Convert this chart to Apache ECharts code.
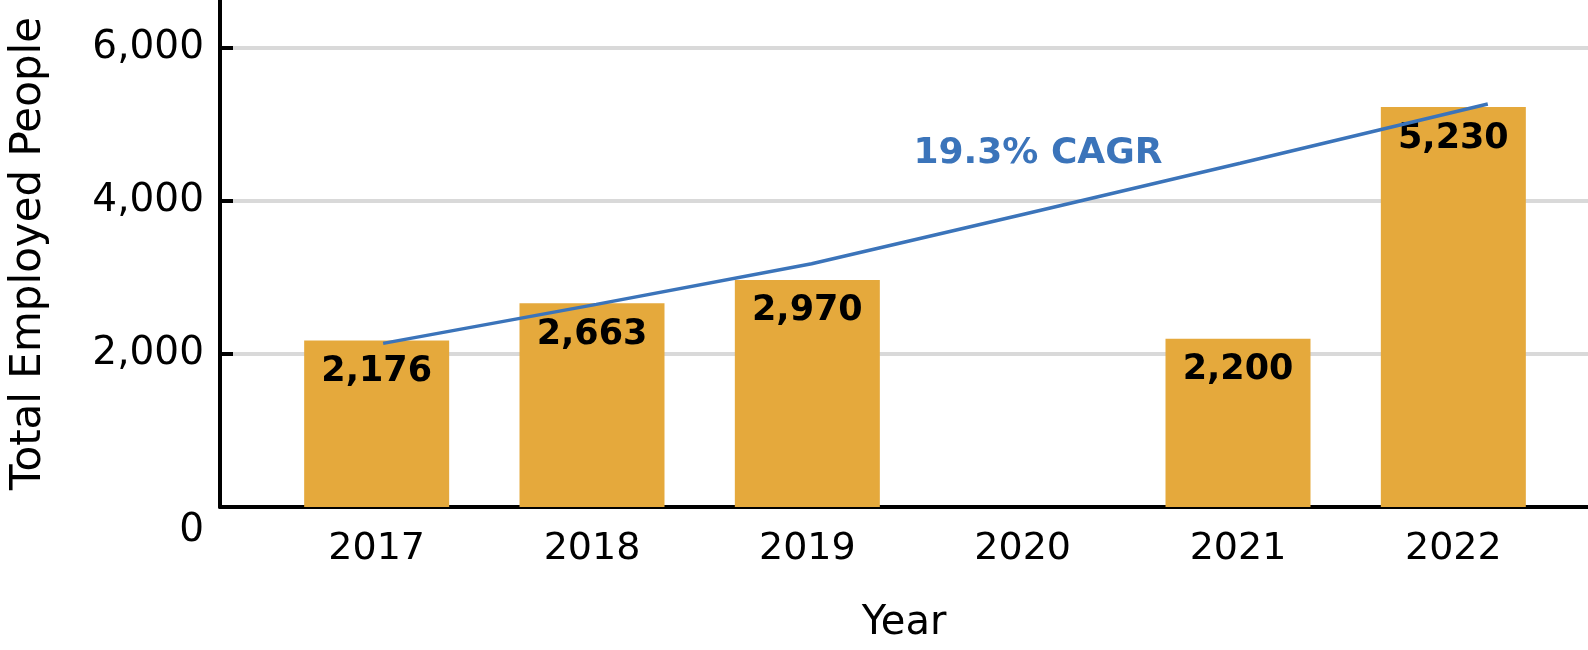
<!DOCTYPE html>
<html>
<head>
<meta charset="utf-8">
<script src="https://cdn.jsdelivr.net/npm/echarts@6/dist/echarts.min.js"></script>
<style>
html,body{margin:0;padding:0;background:#fff;}
#chart{width:1588px;height:650px;}
</style>
</head>
<body>
<div id="chart"></div>
<script>
const categories = ['2017', '2018', '2019', '2020', '2021', '2022'];
const employed = [2176, 2663, 2970, null, 2200, 5230];
const trendYears = [2017.03, 2018.02, 2019.02, 2020.01, 2021.01, 2022.16];
const cagrTrend = [2140, 2650, 3180, 3832, 4495, 5269];
const yTicks = [0, 2000, 4000, 6000];
const cagrLabel = '19.3% CAGR';
const yName = 'Total Employed People';
const xName = 'Year';

const FONT = 'DejaVu Sans';
const fmt = v => v == null ? '' : v.toLocaleString('en-US');
const yMax = 6630;
const gridColors = ['rgba(0,0,0,0)', '#d9d9d9', '#d9d9d9', '#d9d9d9', 'rgba(0,0,0,0)'];

const chart = echarts.init(document.getElementById('chart'));
chart.setOption({
  animation: false,
  textStyle: { fontFamily: FONT },
  grid: [
    { left: 269, right: 27, top: 0, bottom: 143 },
    { left: 211, right: 0, top: 0, bottom: 143 },
    { left: 230, right: 0, top: 0, bottom: 143 }
  ],
  xAxis: [
    {
      type: 'category', gridIndex: 0, data: categories,
      axisLine: { show: false }, axisTick: { show: false },
      axisLabel: { color: '#000', fontSize: 38, fontFamily: FONT, margin: 23 }
    },
    {
      type: 'value', gridIndex: 1, min: 0, max: 1,
      axisLine: { show: true, lineStyle: { color: '#000', width: 4 } },
      axisTick: { show: false }, axisLabel: { show: false }, splitLine: { show: false },
      name: xName, nameLocation: 'middle', nameGap: 97,
      nameTextStyle: { color: '#000', fontSize: 40, fontFamily: FONT }
    },
    {
      type: 'value', gridIndex: 0, min: 2016.5, max: 2022.5, show: false,
      splitLine: { show: false }
    },
    {
      type: 'value', gridIndex: 2, min: 0, max: 1, show: false, splitLine: { show: false }
    }
  ],
  yAxis: [
    { type: 'value', gridIndex: 0, min: 0, max: yMax, show: false, splitLine: { show: false } },
    {
      type: 'value', gridIndex: 1, min: 0, max: yMax, interval: 2000,
      axisLine: { show: true, lineStyle: { color: '#000', width: 4 } },
      axisTick: { show: true, inside: true, length: 13, lineStyle: { color: '#000', width: 4 } },
      splitLine: { show: false },
      axisLabel: {
        color: '#000', fontSize: 39, fontFamily: FONT, margin: 16, showMaxLabel: false,
        formatter: v => (yTicks.indexOf(v) < 0 ? '' : (v === 0 ? '{z|0}' : fmt(v))),
        rich: { z: { fontSize: 39, fontFamily: FONT, color: '#000', padding: [48, 0, 0, 0] } }
      },
      name: yName, nameLocation: 'middle', nameGap: 170, nameRotate: 90,
      nameTextStyle: { color: '#000', fontSize: 42, fontFamily: FONT }
    },
    {
      type: 'value', gridIndex: 2, min: 0, max: yMax, interval: 2000,
      axisLine: { show: false }, axisTick: { show: false }, axisLabel: { show: false },
      splitLine: { show: true, lineStyle: { color: gridColors, width: 4 } }
    }
  ],
  series: [
    {
      type: 'bar', xAxisIndex: 0, yAxisIndex: 0, data: employed, barWidth: 145,
      itemStyle: { color: '#E5A93C' },
      label: {
        show: true, position: 'insideTop', distance: 14, color: '#000',
        fontSize: 35, fontWeight: 'bold', fontFamily: FONT,
        formatter: p => fmt(p.value)
      }
    },
    {
      type: 'line', xAxisIndex: 2, yAxisIndex: 0,
      data: trendYears.map((x, i) => [x, cagrTrend[i]]),
      symbol: 'none', lineStyle: { color: '#3B74BA', width: 3.5 }, z: 5
    }
  ],
  graphic: [
    {
      type: 'text', x: 1038, y: 154,
      style: {
        text: cagrLabel, fill: '#3B74BA', fontSize: 36, fontWeight: 'bold', fontFamily: FONT,
        textAlign: 'center', textVerticalAlign: 'middle'
      }
    }
  ]
});
</script>
</body>
</html>
